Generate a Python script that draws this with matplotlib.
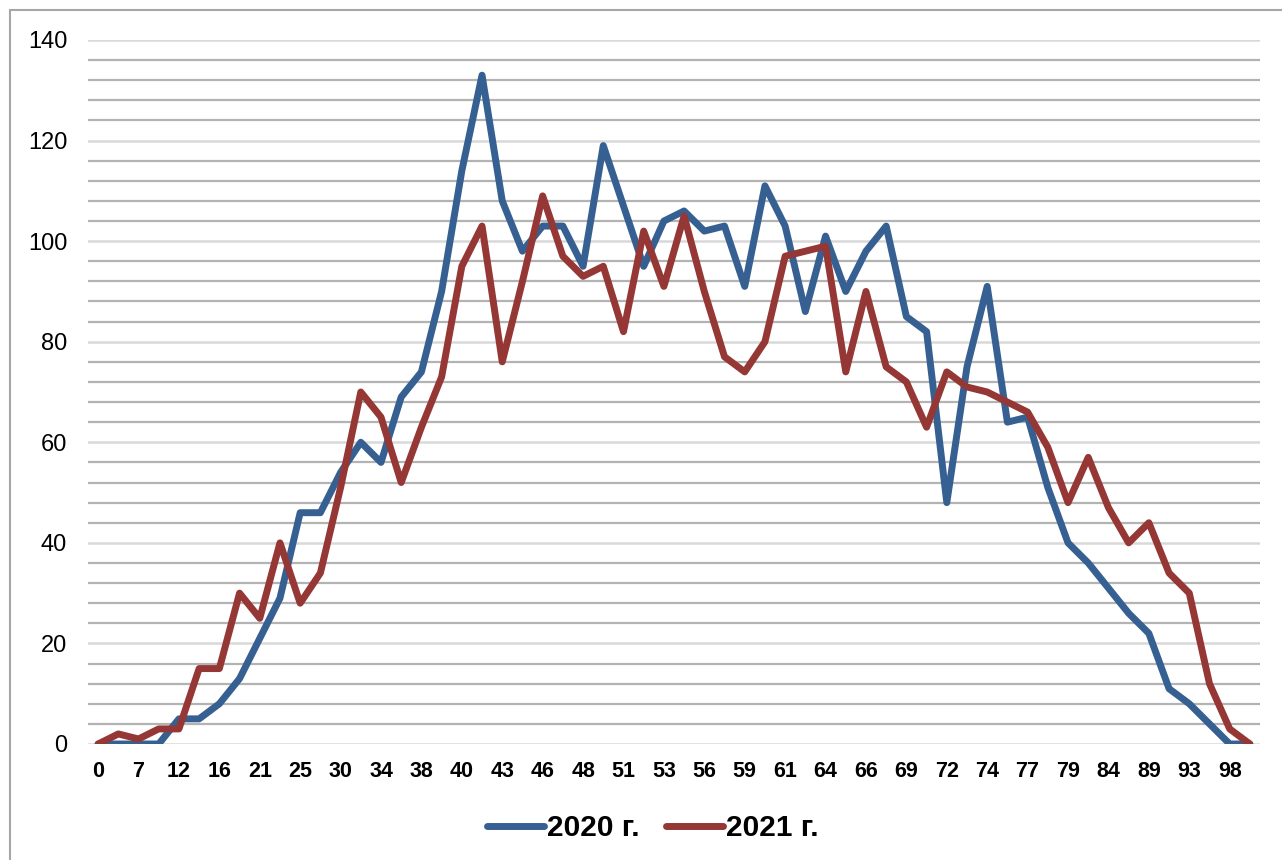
import matplotlib.pyplot as plt
from matplotlib.patches import Rectangle

plt.rcParams['font.family'] = ['Liberation Sans', 'DejaVu Sans']

# x-axis labels (shown at every second point)
tick_labels = ['0', '7', '12', '16', '21', '25', '30', '34', '38', '40', '43', '46',
               '48', '51', '53', '56', '59', '61', '64', '66', '69', '72', '74', '77',
               '79', '84', '89', '93', '98']

y2020 = [0, 0, 0, 0, 5, 5, 8, 13, 21, 29, 46, 46, 54, 60, 56, 69, 74, 90, 114, 133,
         108, 98, 103, 103, 95, 119, 107, 95, 104, 106, 102, 103, 91, 111, 103, 86,
         101, 90, 98, 103, 85, 82, 48, 75, 91, 64, 65, 51, 40, 36, 31, 26, 22, 11,
         8, 4, 0, 0]
y2021 = [0, 2, 1, 3, 3, 15, 15, 30, 25, 40, 28, 34, 51, 70, 65, 52, 63, 73, 95, 103,
         76, 92, 109, 97, 93, 95, 82, 102, 91, 105, 90, 77, 74, 80, 97, 98, 99, 74,
         90, 75, 72, 63, 74, 71, 70, 68, 66, 59, 48, 57, 47, 40, 44, 34, 30, 12, 3, 0]

blue = '#376092'
red = '#953735'

fig = plt.figure(figsize=(12.82, 8.6), dpi=100)
ax = fig.add_axes([88 / 1282, 116 / 860, 1172 / 1282, 704 / 860])

# outer frame of the chart
fig.patches.append(Rectangle((10 / 1282, -0.1), 1.2, 1 - 10 / 860 + 0.1,
                             transform=fig.transFigure, fill=False,
                             edgecolor='#a6a6a6', linewidth=1.5))

# gridlines: darker minor every 4, lighter major every 20
for v in range(0, 141, 4):
    if v % 20 == 0:
        ax.axhline(v, color='#d9d9d9', linewidth=1.8, zorder=1)
    else:
        ax.axhline(v, color='#b3b3b3', linewidth=1.6, zorder=1)

x = list(range(len(y2020)))
ax.plot(x, y2020, color=blue, linewidth=5, solid_joinstyle='round',
        solid_capstyle='round', label='2020 г.', zorder=3)
ax.plot(x, y2021, color=red, linewidth=5, solid_joinstyle='round',
        solid_capstyle='round', label='2021 г.', zorder=3)

ax.set_xlim(-0.5, len(x) - 0.5)
ax.set_ylim(0, 140)
ax.set_yticks(range(0, 141, 20))
ax.set_xticks(range(0, len(x), 2))
ax.set_xticklabels(tick_labels, fontsize=15.5, fontweight='bold')
ax.tick_params(axis='y', length=0, pad=15, labelsize=17)
ax.tick_params(axis='x', length=0, pad=12)
for s in ax.spines.values():
    s.set_visible(False)

fig.legend(loc='center', bbox_to_anchor=(653 / 1282, 1 - 828 / 860), ncol=2,
           frameon=False, handlelength=1.9, handletextpad=0.1, columnspacing=0.9,
           prop={'size': 21.5, 'weight': 'bold'})

fig.savefig('out.png', dpi=100)
